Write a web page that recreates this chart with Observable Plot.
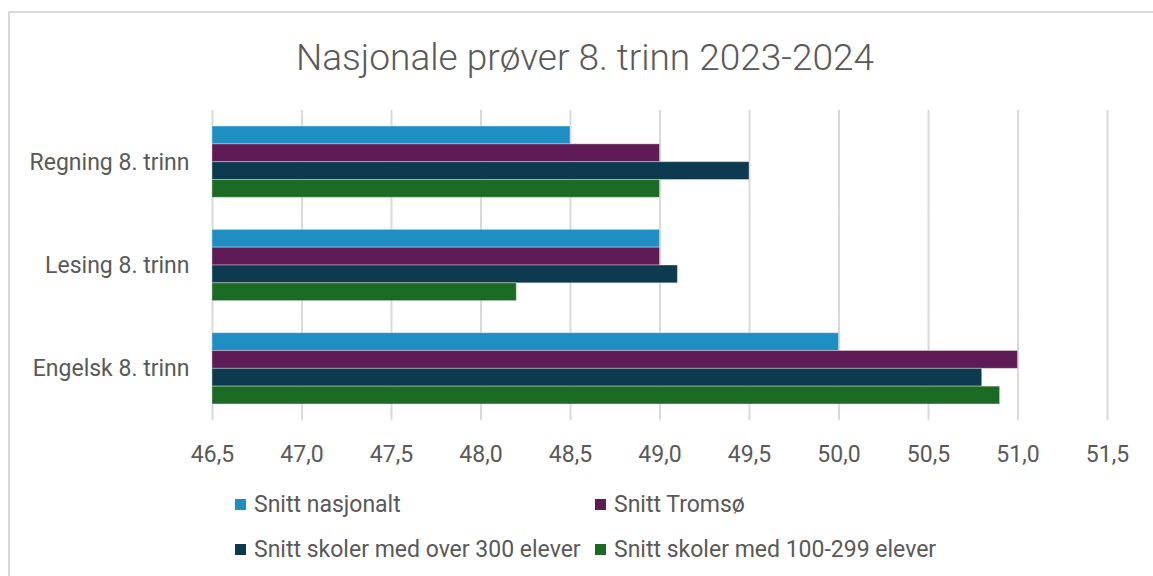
<!DOCTYPE html>
<html>
<head>
<meta charset="utf-8">
<script src="https://cdn.jsdelivr.net/npm/d3@7"></script>
<script src="https://cdn.jsdelivr.net/npm/@observablehq/plot@0.6"></script>
<style>
  body { margin: 0; background: #fff; }
  #wrap { position: relative; width: 1153px; height: 576px; overflow: hidden; background: #fff; font-family: Roboto, "Noto Sans", sans-serif; color: #595959; }
  #frame { position: absolute; left: 8px; top: 11px; width: 1300px; height: 700px; border: 2px solid #d9d9d9; box-sizing: border-box; }
  #title { position: absolute; left: 8px; width: 1154px; top: 36px; text-align: center; font-size: 37px; font-weight: 300; line-height: 44px; }
  #chart { position: absolute; left: 0; top: 100px; }
  .leg { position: absolute; font-size: 23px; line-height: 26px; white-space: nowrap; }
  .sw { display: inline-block; width: 11px; height: 11px; margin-right: 8px; vertical-align: 2px; }
</style>
</head>
<body>
<div id="wrap">
  <div id="frame"></div>
  <div id="title"></div>
  <div id="chart"></div>
  <div id="legend"></div>
</div>
<script>
const title = "Nasjonale prøver 8. trinn 2023-2024";
const categories = ["Regning 8. trinn", "Lesing 8. trinn", "Engelsk 8. trinn"];
const series = ["Snitt nasjonalt", "Snitt Tromsø", "Snitt skoler med over 300 elever", "Snitt skoler med 100-299 elever"];
const colors = ["#1f8fc3", "#5e1b56", "#0e3a50", "#1b6b25"];
// values per series, in category order
const snittNasjonalt = [48.5, 49.0, 50.0];
const snittTromso = [49.0, 49.0, 51.0];
const snittOver300 = [49.5, 49.1, 50.8];
const snitt100til299 = [49.0, 48.2, 50.9];
const xDomain = [46.5, 51.5];
const xTicks = [46.5, 47.0, 47.5, 48.0, 48.5, 49.0, 49.5, 50.0, 50.5, 51.0, 51.5];

const seriesValues = [snittNasjonalt, snittTromso, snittOver300, snitt100til299];
const rows = [];
categories.forEach((c, ci) => {
  series.forEach((s, si) => rows.push({category: c, series: s, value: seriesValues[si][ci]}));
});

document.getElementById("title").textContent = title;

const chart = Plot.plot({
  width: 1153,
  height: 370,
  marginLeft: 212,
  marginRight: 46,
  marginTop: 10,
  marginBottom: 50,
  style: {fontFamily: "Roboto, 'Noto Sans', sans-serif", fontSize: "23px", color: "#595959", background: "transparent"},
  facet: {data: rows, y: "category"},
  fy: {domain: categories, padding: 0, round: false, label: null, tickSize: 0, tickPadding: 23},
  y: {domain: series, axis: null, round: false, paddingInner: 0, paddingOuter: 0.9},
  x: {domain: xDomain, ticks: xTicks, tickFormat: d => d.toFixed(1).replace(".", ","), tickSize: 0, tickPadding: 25, label: null},
  color: {domain: series, range: colors},
  marks: [
    Plot.ruleX(xTicks, {stroke: "#d9d9d9", strokeWidth: 2}),
    Plot.barX(rows, {x1: xDomain[0], x2: "value", y: "series", fill: "series", stroke: "white", strokeOpacity: 0.35, strokeWidth: 1})
  ]
});
document.getElementById("chart").appendChild(chart);

const legendPos = [[235, 492], [595, 492], [235, 537], [595, 537]];
const legend = document.getElementById("legend");
series.forEach((s, i) => {
  const d = document.createElement("div");
  d.className = "leg";
  d.style.left = legendPos[i][0] + "px";
  d.style.top = legendPos[i][1] + "px";
  d.innerHTML = `<span class="sw" style="background:${colors[i]}"></span>`;
  d.appendChild(document.createTextNode(s));
  legend.appendChild(d);
});
</script>
</body>
</html>
